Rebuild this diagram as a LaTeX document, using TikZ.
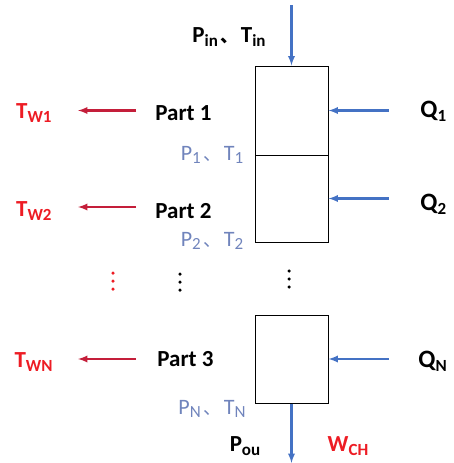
\documentclass[tikz,border=0pt]{standalone}
\usepackage{fontspec}
\setmainfont{Carlito}
\newfontfamily\cjk{Noto Sans CJK SC}
\usetikzlibrary{arrows.meta}
\definecolor{flowblue}{RGB}{68,114,196}
\definecolor{heatred}{RGB}{237,28,36}
\definecolor{wallred}{RGB}{196,30,58}
\definecolor{stategray}{RGB}{112,132,188}
\newcommand{\idx}[1]{\raisebox{-0.35ex}{\fontsize{17}{17}\selectfont #1}}
\newcommand{\dun}{\hspace{3pt}{\cjk\fontsize{18}{18}\selectfont 、}\hspace{2pt}}

\begin{document}
\begin{tikzpicture}[x=1pt, y={(0pt,-1pt)}, thick, >=latex,
    cell/.style={draw, line width=1pt, minimum width=73pt, inner sep=0pt},
    flow/.style={->, flowblue, line width=2.2pt},
    wall/.style={->, wallred, line width=2.2pt},
    lbl/.style={inner sep=2pt, font=\fontsize{23}{26}\selectfont\bfseries},
    heat/.style={lbl, text=heatred},
    state/.style={inner sep=2pt, text=stategray, font=\fontsize{22}{26}\selectfont},
    dot/.style={circle, fill, inner sep=0pt, minimum size=3.5pt}]
    \useasboundingbox (0,0) rectangle (453,463);

    % control volumes
    \node[cell, minimum height=89pt] (box1) at (291.5,110.5) {};
    \node[cell, minimum height=87pt] (box2) at (291.5,198.5) {};
    \node[cell, minimum height=88pt] (boxN) at (291.5,359) {};

    % inlet / outlet
    \coordinate (inlet) at (291.5,5);
    \coordinate (outlet) at (291.5,463);
    \node[lbl] (pin) at (229,37) {P\idx{in}\dun T\idx{in}};
    \node[lbl] (pou) at (245,446) {P\idx{ou}};
    \node[heat] (wch) at (348,446) {W\idx{CH}};
    \draw[flow] (inlet) -- (box1.north);
    \draw[flow] (boxN.south) -- (outlet);

    % parts
    \node[lbl, anchor=west] (part1) at (153,113.5) {Part 1};
    \node[lbl, anchor=west] (part2) at (153,211) {Part 2};
    \node[lbl, anchor=west] (part3) at (155,359) {Part 3};

    \node[heat, anchor=east] (tw1) at (54,113) {T\idx{W1}};
    \node[heat, anchor=east] (tw2) at (54,211) {T\idx{W2}};
    \node[heat, anchor=east] (twn) at (55,362) {T\idx{WN}};

    \node[lbl, anchor=west, font=\fontsize{25}{28}\selectfont\bfseries] (q1) at (418,111) {Q\idx{1}};
    \node[lbl, anchor=west, font=\fontsize{25}{28}\selectfont\bfseries] (q2) at (418,204) {Q\idx{2}};
    \node[lbl, anchor=west, font=\fontsize{25}{28}\selectfont\bfseries] (qn) at (416,361) {Q\idx{N}};

    \node[state] (s1) at (212,155) {P\idx{1}\dun T\idx{1}};
    \node[state] (s2) at (212,241) {P\idx{2}\dun T\idx{2}};
    \node[state] (sn) at (212,409) {P\idx{N}\dun T\idx{N}};

    % heat in
    \draw[flow] ([xshift=60pt]box1.east) -- (box1.east);
    \draw[flow] ([xshift=60pt]box2.east) -- (box2.east);
    \draw[flow] ([xshift=60pt]boxN.east) -- (boxN.east);

    % wall temperatures
    \draw[wall, shorten <=17pt, shorten >=24pt] ([yshift=3pt]part1.west) -- ([yshift=3pt]part1.west -| tw1.east);
    \draw[wall, shorten <=17pt, shorten >=24pt] ([yshift=4pt]part2.west) -- ([yshift=4pt]part2.west -| tw2.east);
    \draw[wall, shorten <=19pt, shorten >=23pt] (part3.west) -- (part3.west -| twn.east);

    % skipped parts
    \foreach \y in {273,281,289} {
        \node[dot, heatred] at (113,\y) {};
        \node[dot] at (180,\y+1) {};
        \node[dot] at (289,\y-2) {};
    }
\end{tikzpicture}
\end{document}
